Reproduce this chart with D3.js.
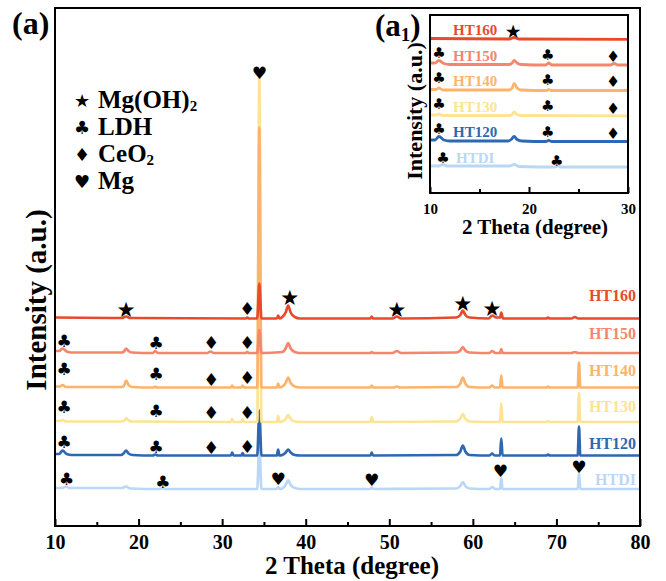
<!DOCTYPE html>
<html>
<head>
<meta charset="utf-8">
<script src="https://cdn.jsdelivr.net/npm/d3@7"></script>
<style>
  html, body { margin: 0; padding: 0; background: #fff; }
  svg { display: block; }
</style>
</head>
<body>
<svg id="chart" width="666" height="581"></svg>
<script>
// ---- XRD patterns: [2θ (degree), intensity (a.u.) above the pattern's own baseline] ----
const seriesNames = ["HTDI", "HT120", "HT130", "HT140", "HT150", "HT160"];
const seriesColors = ["#bad8f6", "#2d68b0", "#fde394", "#fcb46c", "#f5866e", "#e84a2c"];
const stackOffsets = [74, 141, 208, 277, 346, 415];   // vertical stacking in the main panel
const insetOffsets = [52, 103, 154, 205, 256, 307];   // vertical stacking in the inset

const patternHTDI = [[10,2],[10.9,2],[11.3,5],[11.7,2],[18.0,2],[18.5,5],[19.0,1],[22.6,0],[22.9,2],[23.2,0],
  [34.2,0],[34.45,90],[34.7,0],[36.5,0],[36.7,4],[36.9,0],[37.2,1],[37.6,8],[37.9,18],[38.2,8],[38.7,2],[39.3,0],
  [47.7,0],[47.9,3],[48.1,0],[58.0,1],[58.5,6],[58.8,14],[59.1,6],[59.6,1],[62.0,0],[62.3,4],[62.7,0],
  [63.25,0],[63.4,22],[63.55,0],[72.55,0],[72.7,32],[72.85,0],[80,0]];
const patternHT120 = [[10,3],[10.5,3],[10.9,10],[11.4,3],[12,1],[17.9,1],[18.2,4],[18.5,10],[18.8,4],[19.3,1],[21.7,0],[22.0,2],[22.3,0],
  [31.05,0],[31.2,6],[31.35,0],[32.3,0],[32.45,5],[32.6,0],[34.2,0],[34.45,90],[34.7,0],[36.55,0],[36.7,12],[36.85,0],
  [37.2,1],[37.6,6],[37.9,12],[38.2,6],[38.7,1],[39.3,0],[47.75,0],[47.9,6],[48.05,0],
  [58.0,1],[58.5,8],[58.8,20],[59.1,8],[59.6,1],[62.0,0],[62.3,4],[62.6,0],[63.25,0],[63.4,34],[63.55,0],
  [68.8,0],[69.0,2],[69.2,0],[72.55,0],[72.7,58],[72.85,0],[80,0]];
const patternHT130 = [[10,2],[10.6,2],[10.9,4],[11.3,1],[18.0,1],[18.3,3],[18.5,8],[18.8,3],[19.2,1],
  [31.05,0],[31.2,6],[31.35,0],[32.3,0],[32.45,6],[32.6,0],[34.2,0],[34.45,690],[34.7,0],[36.55,0],[36.7,12],[36.85,0],
  [37.2,1],[37.6,6],[37.9,14],[38.2,6],[38.7,1],[39.3,0],[47.75,0],[47.9,10],[48.05,0],
  [58.0,1],[58.5,7],[58.8,16],[59.1,7],[59.6,1],[63.25,0],[63.4,38],[63.55,0],
  [68.8,0],[69.0,2],[69.2,0],[72.55,0],[72.7,58],[72.85,0],[80,0]];
const patternHT140 = [[10,2],[10.6,2],[10.9,5],[11.3,1],[18.0,1],[18.3,5],[18.5,14],[18.8,5],[19.2,1],[21.8,0],[22.0,2],[22.2,0],
  [31.05,0],[31.2,4],[31.35,0],[32.3,0],[32.45,4],[32.6,0],[34.2,0],[34.45,520],[34.7,0],[36.55,0],[36.7,8],[36.85,0],
  [37.2,2],[37.6,9],[37.9,20],[38.2,9],[38.7,2],[39.3,0],[47.75,0],[47.9,4],[48.05,0],[50.5,0],[50.9,2],[51.3,0],
  [58.0,1],[58.5,8],[58.8,20],[59.1,8],[59.6,1],[62.0,0],[62.3,4],[62.6,0],[63.25,0],[63.4,24],[63.55,0],
  [68.8,0],[69.0,2],[69.2,0],[72.55,0],[72.7,50],[72.85,0],[80,0]];
const patternHT150 = [[10,4],[10.5,4],[10.9,9],[11.4,3],[12,1],[18.0,1],[18.3,4],[18.5,9],[18.8,4],[19.2,1],[21.7,0],[22.0,4],[22.3,0],
  [28.2,0],[28.6,3],[29.0,0],[32.8,0],[33.0,2],[33.2,0],[34.2,0],[34.45,46],[34.7,0],
  [37.2,2],[37.6,9],[37.9,20],[38.2,9],[38.7,2],[39.3,0],[47.75,0],[47.9,2],[48.05,0],[50.4,0],[50.9,4],[51.4,0],
  [58.0,1],[58.5,5],[58.8,12],[59.1,5],[59.6,1],[62.0,0],[62.3,4],[62.7,0],[63.25,0],[63.4,8],[63.55,0],
  [71.8,0],[72.2,2],[72.6,0],[80,0]];
const patternHT160 = [[10,2],[18.0,1],[18.5,4],[19.0,1],[32.8,0],[33.0,2],[33.2,0],[34.2,0],[34.45,70],[34.7,0],
  [36.55,0],[36.7,6],[36.85,0],[37.2,3],[37.6,12],[37.9,26],[38.2,12],[38.7,3],[39.3,0],[47.75,0],[47.9,4],[48.05,0],
  [50.4,0],[50.9,4],[51.4,0],[58.0,2],[58.5,7],[58.8,16],[59.1,7],[59.6,2],[61.9,0],[62.3,6],[62.8,2],
  [63.25,2],[63.4,12],[63.6,0],[68.8,0],[69.0,2],[69.2,0],[71.8,0],[72.2,3],[72.6,0],[80,0]];
const patterns = [patternHTDI, patternHT120, patternHT130, patternHT140, patternHT150, patternHT160];

// ---- axis ticks ----
const xMajorTicks = [10, 20, 30, 40, 50, 60, 70, 80];
const xMinorTicks = [15, 25, 35, 45, 55, 65, 75];
const insetMajorTicks = [10, 20, 30];
const insetMinorTicks = [15, 25];

// ---- phase identification ----
const phaseGlyphs = ["\u2605", "\u2663", "\u2666", "\u2665"];
const phaseNames = [["Mg(OH)", "2"], ["LDH", ""], ["CeO", "2"], ["Mg", ""]];
// [2θ, pattern index, phase index, height above that pattern's baseline]
const mainMarkers = [
  [18.5,5,0,19],[33.0,5,2,21],[38.1,5,0,43],[50.9,5,0,19],[58.8,5,0,31],[62.3,5,0,21],
  [11.1,4,1,24],[22.1,4,1,20],[28.7,4,2,22],[33.0,4,2,22],
  [11.1,3,1,37],[22.1,3,1,27],[28.7,3,2,17],[33.0,3,2,21],
  [11.1,2,1,30],[22.1,2,1,22],[28.7,2,2,20],[33.0,2,2,20],
  [11.1,1,1,27],[22.1,1,1,17],[28.7,1,2,17],[33.0,1,2,19],
  [11.4,0,1,20],[22.9,0,1,14],[36.7,0,3,20],[47.9,0,3,18],[63.3,0,3,36],[72.7,0,3,44],
  [34.45,2,3,698]
];
const insetMarkers = [
  [18.4,5,0,16],
  [10.9,4,1,24],[21.9,4,1,20],[28.5,4,2,18],
  [10.9,3,1,26],[21.9,3,1,22],[28.5,3,2,18],
  [10.9,2,1,24],[21.9,2,1,20],[28.5,2,2,16],
  [10.9,1,1,26],[21.9,1,1,20],[28.5,1,2,16],
  [11.3,0,1,18],[22.8,0,1,12]
];

// ================= drawing =================
const svg = d3.select("#chart");
const serif = "'Liberation Serif', 'Times New Roman', serif";
const glyphFont = "'DejaVu Sans', sans-serif";
// the star glyph is drawn a little larger than the card-suit glyphs
const glyphScale = [1.25, 1, 1.05, 1];

// main panel geometry
const M = { left: 55, right: 640, top: 8, bottom: 526 };
const x = d3.scaleLinear().domain([10, 80]).range([M.left, M.right]);
const y = d3.scaleLinear().domain([0, 1036]).range([M.bottom, M.top]);

const line = (sx, sy, off) => d3.line()
  .x(d => sx(d[0]))
  .y(d => sy(off + d[1]))
  .curve(d3.curveMonotoneX);

const mainG = svg.append("g");
patterns.forEach((p, i) => {
  mainG.append("path")
    .attr("d", line(x, y, stackOffsets[i])(p))
    .attr("fill", "none")
    .attr("stroke", seriesColors[i])
    .attr("stroke-width", 2.7)
    .attr("stroke-linejoin", "round");
});

// pattern labels on the right
const labelRise = [10, 12.5, 16, 17.5, 20, 23.5];
seriesNames.forEach((n, i) => {
  mainG.append("text")
    .attr("x", 636)
    .attr("y", y(stackOffsets[i]) - labelRise[i])
    .attr("text-anchor", "end")
    .attr("dominant-baseline", "central")
    .attr("font-family", serif)
    .attr("font-weight", "bold")
    .attr("font-size", 16)
    .attr("fill", seriesColors[i])
    .text(n);
});

// phase markers
mainG.selectAll("text.mk").data(mainMarkers).join("text")
  .attr("class", "mk")
  .attr("x", d => x(d[0]))
  .attr("y", d => y(stackOffsets[d[1]] + d[3]))
  .attr("text-anchor", "middle")
  .attr("dominant-baseline", "central")
  .attr("font-family", glyphFont)
  .attr("font-size", d => 17 * glyphScale[d[2]])
  .attr("fill", "#000")
  .text(d => phaseGlyphs[d[2]]);

// frame
svg.append("rect")
  .attr("x", M.left).attr("y", M.top)
  .attr("width", M.right - M.left).attr("height", M.bottom - M.top)
  .attr("fill", "none").attr("stroke", "#000").attr("stroke-width", 2);

// bottom axis: inward ticks
const axMajor = svg.append("g").attr("transform", `translate(0,${M.bottom})`)
  .call(d3.axisBottom(x).tickValues(xMajorTicks).tickSize(-7).tickPadding(9).tickFormat(d3.format("d")));
const axMinor = svg.append("g").attr("transform", `translate(0,${M.bottom})`)
  .call(d3.axisBottom(x).tickValues(xMinorTicks).tickSize(-4).tickFormat(""));
[axMajor, axMinor].forEach(g => {
  g.select(".domain").remove();
  g.selectAll(".tick line").attr("stroke", "#000").attr("stroke-width", 2);
});
axMajor.selectAll(".tick text")
  .attr("font-family", serif).attr("font-weight", "bold").attr("font-size", 20).attr("fill", "#000");

// axis titles
svg.append("text")
  .attr("x", 352).attr("y", 574)
  .attr("text-anchor", "middle")
  .attr("font-family", serif).attr("font-weight", "bold").attr("font-size", 25)
  .text("2 Theta (degree)");
svg.append("text")
  .attr("transform", "translate(46,300) rotate(-90)")
  .attr("text-anchor", "middle")
  .attr("font-family", serif).attr("font-weight", "bold").attr("font-size", 29)
  .text("Intensity (a.u.)");

// panel tag
svg.append("text")
  .attr("x", 12).attr("y", 34)
  .attr("font-family", serif).attr("font-weight", "bold").attr("font-size", 32)
  .text("(a)");

// legend of phases
const leg = svg.append("g");
phaseNames.forEach((pn, i) => {
  const cy = 100 + i * 27;
  leg.append("text")
    .attr("x", 82).attr("y", cy)
    .attr("text-anchor", "middle").attr("dominant-baseline", "central")
    .attr("font-family", glyphFont).attr("font-size", 18)
    .text(phaseGlyphs[i]);
  const t = leg.append("text")
    .attr("x", 98).attr("y", cy + 8)
    .attr("font-family", serif).attr("font-weight", "bold").attr("font-size", 25);
  t.append("tspan").text(pn[0]);
  if (pn[1]) t.append("tspan").attr("font-size", 15).attr("dy", 3).text(pn[1]);
});

// ================= inset (a1) =================
const I = { left: 430, right: 628, top: 15, bottom: 193 };
const xi = d3.scaleLinear().domain([10, 30]).range([I.left, I.right]);
const yi = d3.scaleLinear().domain([0, 356]).range([I.bottom, I.top]);

const inset = svg.append("g");
inset.append("rect")
  .attr("x", I.left).attr("y", I.top)
  .attr("width", I.right - I.left).attr("height", I.bottom - I.top)
  .attr("fill", "#fff");
svg.append("clipPath").attr("id", "insetClip")
  .append("rect")
  .attr("x", I.left).attr("y", I.top)
  .attr("width", I.right - I.left).attr("height", I.bottom - I.top);

// the inset shows the low-angle part of each pattern, up to the foot of the 34.5° reflection
const insetLines = inset.append("g").attr("clip-path", "url(#insetClip)");
patterns.forEach((p, i) => {
  insetLines.append("path")
    .attr("d", line(xi, yi, insetOffsets[i])(p.filter(d => d[0] <= 34.2)))
    .attr("fill", "none")
    .attr("stroke", seriesColors[i])
    .attr("stroke-width", 2.8)
    .attr("stroke-linejoin", "round");
});

seriesNames.forEach((n, i) => {
  inset.append("text")
    .attr("x", i === 0 ? 456 : 453)
    .attr("y", yi(insetOffsets[i]) - 9.5)
    .attr("dominant-baseline", "central")
    .attr("font-family", serif).attr("font-weight", "bold").attr("font-size", 15)
    .attr("fill", seriesColors[i])
    .text(n);
});

inset.selectAll("text.imk").data(insetMarkers).join("text")
  .attr("class", "imk")
  .attr("x", d => xi(d[0]))
  .attr("y", d => yi(insetOffsets[d[1]] + d[3]))
  .attr("text-anchor", "middle")
  .attr("dominant-baseline", "central")
  .attr("font-family", glyphFont)
  .attr("font-size", d => 15 * glyphScale[d[2]])
  .attr("fill", "#000")
  .text(d => phaseGlyphs[d[2]]);

inset.append("rect")
  .attr("x", I.left).attr("y", I.top)
  .attr("width", I.right - I.left).attr("height", I.bottom - I.top)
  .attr("fill", "none").attr("stroke", "#000").attr("stroke-width", 2);

const iaxMajor = inset.append("g").attr("transform", `translate(0,${I.bottom})`)
  .call(d3.axisBottom(xi).tickValues(insetMajorTicks).tickSize(-6).tickPadding(10).tickFormat(d3.format("d")));
const iaxMinor = inset.append("g").attr("transform", `translate(0,${I.bottom})`)
  .call(d3.axisBottom(xi).tickValues(insetMinorTicks).tickSize(-4).tickFormat(""));
[iaxMajor, iaxMinor].forEach(g => {
  g.select(".domain").remove();
  g.selectAll(".tick line").attr("stroke", "#000").attr("stroke-width", 2);
});
iaxMajor.selectAll(".tick text")
  .attr("font-family", serif).attr("font-weight", "bold").attr("font-size", 15).attr("fill", "#000");

inset.append("text")
  .attr("x", 535).attr("y", 234)
  .attr("text-anchor", "middle")
  .attr("font-family", serif).attr("font-weight", "bold").attr("font-size", 21)
  .text("2 Theta (degree)");
inset.append("text")
  .attr("transform", "translate(422,111) rotate(-90)")
  .attr("text-anchor", "middle")
  .attr("font-family", serif).attr("font-weight", "bold").attr("font-size", 22)
  .text("Intensity (a.u.)");

const tag = inset.append("text")
  .attr("x", 375).attr("y", 36)
  .attr("font-family", serif).attr("font-weight", "bold").attr("font-size", 31);
tag.append("tspan").text("(a");
tag.append("tspan").attr("font-size", 19).attr("dy", 5).text("1");
tag.append("tspan").attr("dy", -5).text(")");
</script>
</body>
</html>
